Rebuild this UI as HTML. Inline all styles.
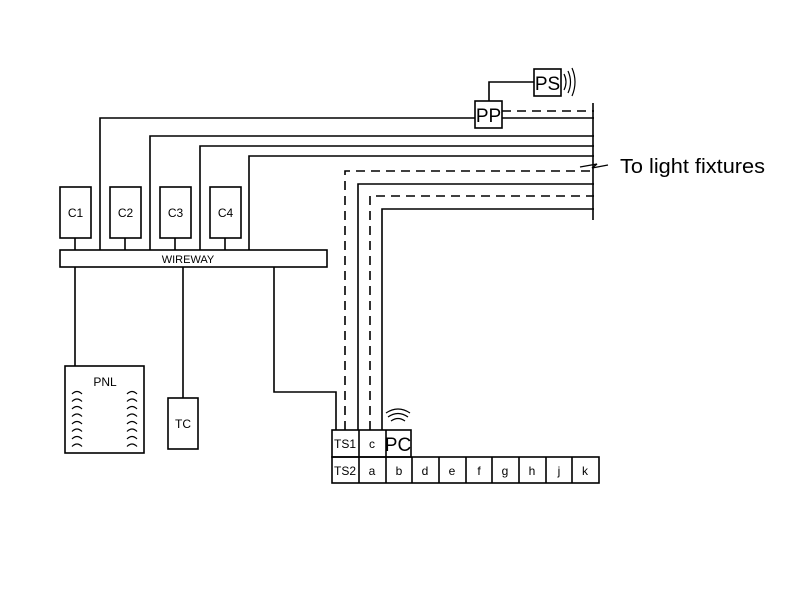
<!DOCTYPE html>
<html><head><style>body{margin:0;background:#fff}</style></head><body>
<svg width="800" height="584" viewBox="0 0 800 584" xmlns="http://www.w3.org/2000/svg" font-family="Liberation Sans, sans-serif">
<g stroke="#000" stroke-width="1.6" fill="none">
<rect x="60" y="187" width="31" height="51"/>
<rect x="110" y="187" width="31" height="51"/>
<rect x="160" y="187" width="31" height="51"/>
<rect x="210" y="187" width="31" height="51"/>
<path d="M75 238V250M125 238V250M175 238V250M225 238V250"/>
<rect x="60" y="250" width="267" height="17"/>
<path d="M100 250V118H475M502 118H594"/>
<path d="M150 250V136H594"/>
<path d="M200 250V146H594"/>
<path d="M249 250V156H594"/>
<path d="M502 111H594" stroke-dasharray="9,6"/>
<path d="M593 103V220"/>
<rect x="475" y="101" width="27" height="27"/>
<rect x="534" y="69" width="27" height="27"/>
<path d="M489 101V82H534"/>
<path d="M564 74q4 8 0 16M568 71q5 11 0 22M572 68q6 14 0 28" stroke-width="1.2"/>
<path d="M580 167L597 164L592 168L608 165" stroke-width="1.3"/>
<path d="M345 430V171H594" stroke-dasharray="9,6"/>
<path d="M358 430V184H594"/>
<path d="M370 430V196H594" stroke-dasharray="9,6"/>
<path d="M382 430V209H594"/>
<path d="M274 267V392H336V430"/>
<path d="M75 267V366M183 267V398"/>
<rect x="65" y="366" width="79" height="87"/>
<rect x="168" y="398" width="30" height="51"/>
<rect x="332" y="430" width="79" height="27"/>
<path d="M359 430V483M386 430V483"/>
<rect x="332" y="457" width="267" height="26"/>
<path d="M412 457V483M439 457V483M466 457V483M492 457V483M519 457V483M546 457V483M572 457V483"/>
<path d="M391 421q7-5 14 0M388 417q10-7 20 0M386 413q12-8 24 0" stroke-width="1.2"/>
</g>
<g stroke="#000" stroke-width="1.2" fill="none">
<path d="M72 394q5-5 10 0M72 401.5q5-5 10 0M72 409q5-5 10 0M72 416.5q5-5 10 0M72 424q5-5 10 0M72 431.5q5-5 10 0M72 439q5-5 10 0M72 446.5q5-5 10 0"/>
<path d="M127 394q5-5 10 0M127 401.5q5-5 10 0M127 409q5-5 10 0M127 416.5q5-5 10 0M127 424q5-5 10 0M127 431.5q5-5 10 0M127 439q5-5 10 0M127 446.5q5-5 10 0"/>
</g>
<g font-size="12" text-anchor="middle" fill="#000">
<text x="75.5" y="217">C1</text><text x="125.5" y="217">C2</text><text x="175.5" y="217">C3</text><text x="225.5" y="217">C4</text>
<text x="188" y="263" font-size="11">WIREWAY</text>
<text x="105" y="386">PNL</text>
<text x="183" y="428">TC</text>
<text x="345" y="448">TS1</text><text x="372" y="448">c</text>
<text x="345" y="475">TS2</text><text x="372" y="475">a</text><text x="399" y="475">b</text><text x="425" y="475">d</text><text x="452" y="475">e</text><text x="479" y="475">f</text><text x="505" y="475">g</text><text x="532" y="475">h</text><text x="559" y="475">j</text><text x="585" y="475">k</text>
<text x="398" y="451" font-size="19">PC</text>
<text x="488.5" y="122" font-size="19">PP</text>
<text x="547.5" y="90" font-size="19">PS</text>
</g>
<text x="620" y="173" font-size="20" fill="#000" textLength="145" lengthAdjust="spacingAndGlyphs">To light fixtures</text>
</svg>
</body></html>
